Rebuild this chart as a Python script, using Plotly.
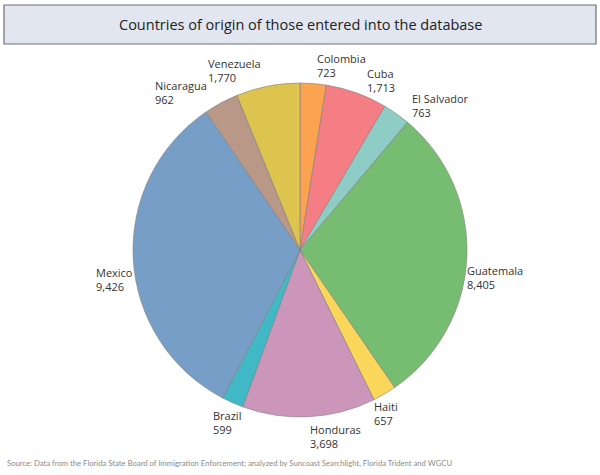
import math
import plotly.graph_objects as go

countries = ["Colombia", "Cuba", "El Salvador", "Guatemala", "Haiti",
             "Honduras", "Brazil", "Mexico", "Nicaragua", "Venezuela"]
counts = [723, 1713, 763, 8405, 657, 3698, 599, 9426, 962, 1770]
colors = ["#FBA350", "#F57E85", "#8ECDC5", "#76BC71", "#FAD75B",
          "#CB96BA", "#41B8C5", "#779EC6", "#B99888", "#DCC44F"]

title = "Countries of origin of those entered into the database"
source = ("Source: Data from the Florida State Board of Immigration Enforcement; "
          "analyzed by Suncoast Searchlight, Florida Trident and WGCU")

W, H = 600, 475
pie_top, pie_bottom = 83, 417          # pixel rows of the pie domain
dom_y = [1 - pie_bottom / H, 1 - pie_top / H]

fig = go.Figure(go.Pie(
    labels=countries,
    values=counts,
    sort=False,
    direction="clockwise",
    rotation=0,
    automargin=False,
    marker=dict(colors=colors, line=dict(color="#808080", width=0.6)),
    textinfo="none",
    hoverinfo="label+value",
    domain=dict(x=[0, 1], y=dom_y),
))

# outside labels, Tableau style: left-aligned text block touching the rim,
# nudged sideways on the diagonals
cx = W / 2
cy = (dom_y[0] + dom_y[1]) / 2 * H
r = (dom_y[1] - dom_y[0]) * H / 2
total = sum(counts)
labels = []
acc = 0
for name, v in zip(countries, counts):
    a = 2 * math.pi * (acc + v / 2) / total
    acc += v
    sx, sy = math.sin(a), math.cos(a)
    px = cx + r * sx + 28 * sx * sy
    py = cy + r * sy - 3
    if sy > 0:
        py += 6 - 20 * abs(sx)
    labels.append(dict(
        text=f"{name}<br>{v:,}", xref="paper", yref="paper",
        x=px / W, y=py / H,
        xanchor="left" if sx >= 0 else "right",
        yanchor="bottom" if sy > 0 else "top",
        align="left", showarrow=False,
        font=dict(family="Open Sans", size=11, color="#333333"),
    ))

fig.update_layout(
    width=W, height=H,
    margin=dict(l=0, r=0, t=0, b=0, pad=0, autoexpand=False),
    paper_bgcolor="white",
    showlegend=False,
    shapes=[dict(type="rect", xref="paper", yref="paper",
                 x0=4 / W, x1=596 / W, y0=1 - 44 / H, y1=1 - 5 / H,
                 fillcolor="#E1E6F0", line=dict(color="#707070", width=1.2),
                 layer="below")],
    annotations=labels + [
        dict(text=title, xref="paper", yref="paper", x=0.5, y=1 - 25 / H,
             showarrow=False, xanchor="center", yanchor="middle",
             font=dict(family="Open Sans", size=14.5, color="#222222")),
        dict(text=source, xref="paper", yref="paper", x=5 / W, y=1 - 463 / H,
             showarrow=False, xanchor="left", yanchor="middle",
             font=dict(family="Lato", size=7.7, color="#8a8a8a")),
    ],
)

fig.write_html("out.html", config={"displayModeBar": False},
               post_script="document.body.style.margin='0px';")
